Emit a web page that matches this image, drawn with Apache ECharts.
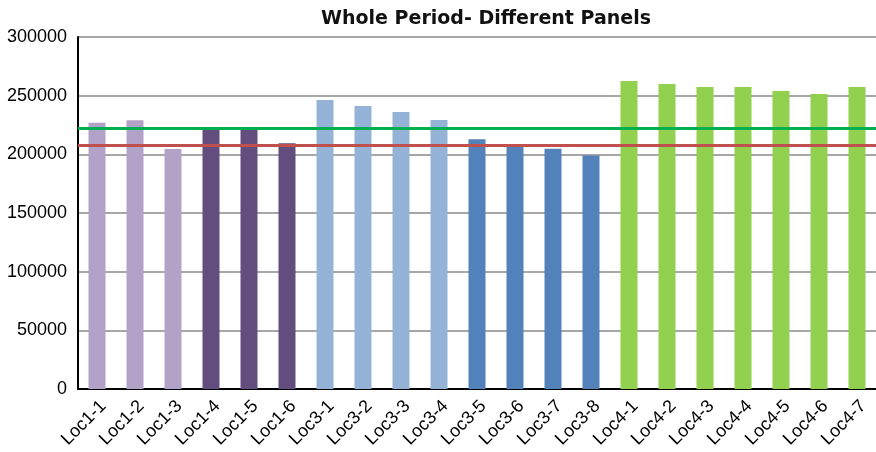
<!DOCTYPE html>
<html>
<head>
<meta charset="utf-8">
<script src="https://cdn.jsdelivr.net/npm/echarts@6/dist/echarts.min.js"></script>
<style>
  html, body { margin: 0; padding: 0; background: #fff; }
  #chart { width: 876px; height: 452px; }
</style>
</head>
<body>
<div id="chart"></div>
<script>
// Panel locations along the x axis
const categories = [
  'Loc1-1', 'Loc1-2', 'Loc1-3', 'Loc1-4', 'Loc1-5', 'Loc1-6',
  'Loc3-1', 'Loc3-2', 'Loc3-3', 'Loc3-4', 'Loc3-5', 'Loc3-6', 'Loc3-7', 'Loc3-8',
  'Loc4-1', 'Loc4-2', 'Loc4-3', 'Loc4-4', 'Loc4-5', 'Loc4-6', 'Loc4-7'
];

// Whole-period totals per panel
const values = [
  227000, 229000, 204500, 221000, 221000, 209500,
  246300, 241200, 236100, 229300, 212800, 206500, 204800, 199100,
  262500, 259900, 257400, 257400, 254000, 251400, 257400
];

// Reference levels drawn across the panels
const upperLevel = 222000;
const lowerLevel = 208000;

// Y axis ticks
const yMin = 0;
const yMax = 300000;
const yStep = 50000;

// Fill per panel group
const barColors = [
  '#b3a2c7', '#b3a2c7', '#b3a2c7', '#634d7e', '#634d7e', '#634d7e',
  '#95b3d7', '#95b3d7', '#95b3d7', '#95b3d7', '#5381ba', '#5381ba', '#5381ba', '#5381ba',
  '#92d050', '#92d050', '#92d050', '#92d050', '#92d050', '#92d050', '#92d050'
];

const FONT = 'Liberation Sans, Arial, sans-serif';

const chart = echarts.init(document.getElementById('chart'), null, { renderer: 'canvas' });

chart.setOption({
  animation: false,
  backgroundColor: '#ffffff',
  title: {
    text: 'Whole Period- Different Panels',
    left: 481,
    textAlign: 'center',
    top: 5,
    textStyle: {
      fontFamily: 'DejaVu Sans, sans-serif',
      fontSize: 19,
      fontWeight: 'bold',
      color: '#111'
    }
  },
  grid: { left: 78, right: 0, top: 37, bottom: 63, containLabel: false },
  xAxis: {
    type: 'category',
    data: categories,
    axisLine: { lineStyle: { color: '#000', width: 2 } },
    axisTick: { show: false },
    axisLabel: {
      interval: 0,
      rotate: 45,
      margin: 8,
      verticalAlign: 'top',
      fontFamily: FONT,
      fontSize: 18,
      color: '#000'
    }
  },
  yAxis: {
    type: 'value',
    min: yMin,
    max: yMax,
    interval: yStep,
    axisLine: { show: true, lineStyle: { color: '#000', width: 2 } },
    axisTick: { show: false },
    axisLabel: {
      margin: 11,
      fontFamily: FONT,
      fontSize: 18,
      color: '#000',
      formatter: (v) => String(v)
    },
    splitLine: { lineStyle: { color: '#a6a6a6', width: 2 } }
  },
  series: [
    {
      type: 'bar',
      data: values.map((v, i) => ({ value: v, itemStyle: { color: barColors[i] } })),
      barWidth: 17,
      markLine: {
        symbol: 'none',
        silent: true,
        label: { show: false },
        data: [
          { yAxis: upperLevel, lineStyle: { color: '#00b050', width: 3, type: 'solid' } },
          { yAxis: lowerLevel, lineStyle: { color: '#c0504d', width: 3, type: 'solid' } }
        ]
      }
    }
  ]
});
</script>
</body>
</html>
